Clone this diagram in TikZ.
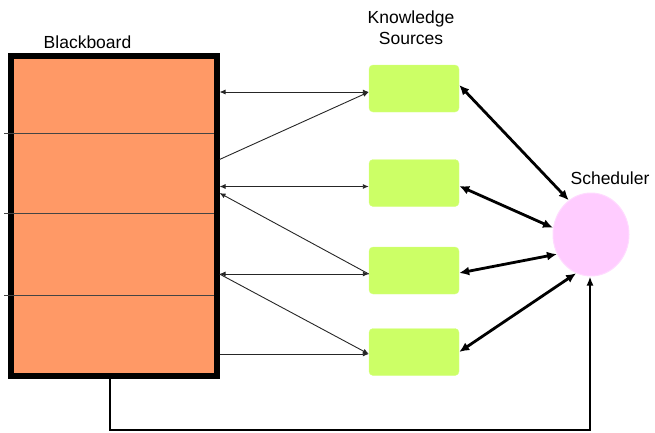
\documentclass[tikz,border=0pt]{standalone}
\usepackage{fontspec}
\setmainfont{Liberation Sans}
\usetikzlibrary{arrows.meta,shapes.geometric}
\definecolor{bbfill}{HTML}{FF9966}
\definecolor{ksfill}{HTML}{CCFF66}
\definecolor{schfill}{HTML}{FFCCFF}
\definecolor{divgray}{HTML}{444444}
\tikzset{
  bbbox/.style={draw=black, fill=bbfill, line width=6pt, minimum width=206pt, minimum height=320pt, inner sep=0pt},
  ksbox/.style={fill=ksfill, draw=ksfill!80!white, rounded corners=4pt, minimum width=90pt, minimum height=47pt, inner sep=0pt},
  schnode/.style={ellipse, fill=schfill, draw=schfill!70!white, line width=1pt, minimum width=76pt, minimum height=83pt, inner sep=0pt},
  lbl/.style={font=\fontsize{17.5}{21}\selectfont, inner sep=0pt, align=center},
  thin/.style={draw=black!85, line width=0.9pt, -{Latex[length=6pt,width=5pt]}},
  thinboth/.style={draw=black!85, line width=0.9pt, {Latex[length=6pt,width=5pt]}-{Latex[length=6pt,width=5pt]}},
  thickboth/.style={draw=black, line width=2.8pt, {Latex[length=10pt,width=9pt]}-{Latex[length=10pt,width=9pt]}},
  feed/.style={draw=black, line width=2pt, -{Latex[length=9pt,width=7pt]}},
}
\begin{document}
\begin{tikzpicture}[x=1pt,y=-1pt]
\useasboundingbox (0,0) rectangle (655,432);
% blackboard
\node[bbbox] (bb) at (113.5,216) {};
\draw[divgray, line width=1pt] (4,133) -- (213.5,133);
\draw[divgray, line width=1pt] (4,213) -- (213.5,213);
\draw[divgray, line width=1pt] (4,295) -- (213.5,295);
\node[lbl] (bbl) at (87.5,42) {Blackboard};
% knowledge sources
\node[ksbox] (ks1) at (414,88.5) {};
\node[ksbox] (ks2) at (414,183) {};
\node[ksbox] (ks3) at (414,270.5) {};
\node[ksbox] (ks4) at (414,352) {};
\node[lbl] (ksl) at (411,28) {Knowledge\\Sources};
% scheduler
\node[schnode] (sch) at (591,234.5) {};
\node[lbl] (schl) at (610,178) {Scheduler};
% thin connectors
\path[thinboth] (bb.east |- 0,92) -- (ks1.west |- 0,92);
\path[thin] (bb.east |- 0,159.5) -- (ks1.west |- 0,92);
\path[thinboth] (bb.east |- 0,186.5) -- (ks2.west |- 0,186.5);
\path[thin] (ks3.west |- 0,274) -- (bb.east |- 0,193);
\path[thinboth] (bb.east |- 0,274) -- (ks3.west |- 0,274);
\path[thin] (bb.east |- 0,274) -- (ks4.west |- 0,354);
\path[thin] (bb.east |- 0,354) -- (ks4.west |- 0,354);
% thick connectors
\path[thickboth] ([yshift=3.5pt]ks1.east) -- (sch.123);
\path[thickboth] ([yshift=-3pt]ks2.east) -- (sch.170);
\path[thickboth] ([yshift=-2.5pt]ks3.east) -- (sch.210);
\path[thickboth] ([yshift=0pt]ks4.east) -- (sch.249);
% feedback
\path[feed] ([xshift=-4pt]bb.south) -- ++(0,51) -| ([xshift=-1pt]sch.south);
\end{tikzpicture}
\end{document}
